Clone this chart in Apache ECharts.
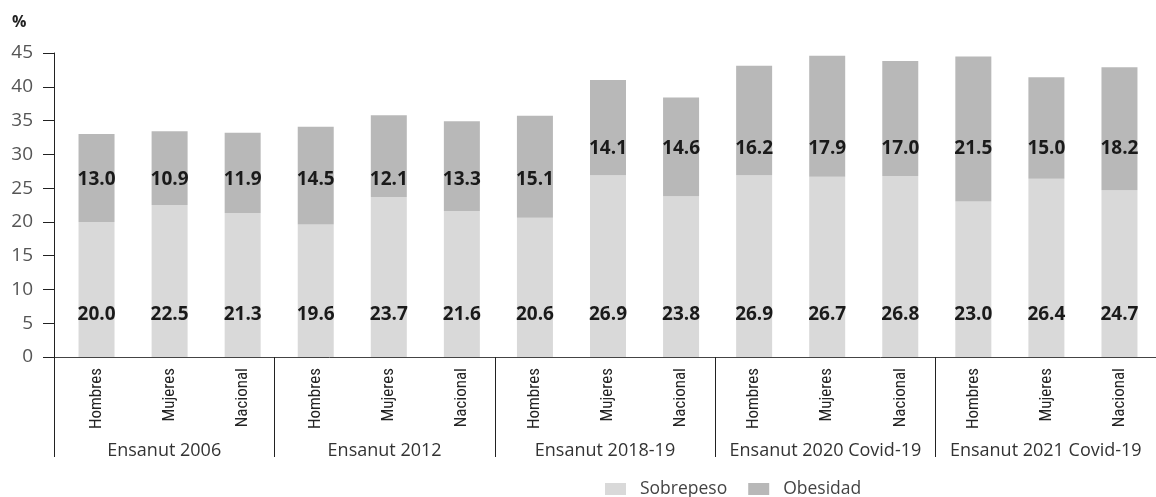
<!DOCTYPE html>
<html>
<head>
<meta charset="utf-8">
<script src="https://cdn.jsdelivr.net/npm/echarts@6/dist/echarts.min.js"></script>
<style>html,body{margin:0;padding:0;background:#fff}#c{width:1156px;height:497px}</style>
</head>
<body>
<div id="c"></div>
<script>
const categories = ['Hombres','Mujeres','Nacional','Hombres','Mujeres','Nacional','Hombres','Mujeres','Nacional','Hombres','Mujeres','Nacional','Hombres','Mujeres','Nacional'];
const groups = ['Ensanut 2006','Ensanut 2012','Ensanut 2018-19','Ensanut 2020 Covid-19','Ensanut 2021 Covid-19'];
const sobrepeso = [20.0, 22.5, 21.3, 19.6, 23.7, 21.6, 20.6, 26.9, 23.8, 26.9, 26.7, 26.8, 23.0, 26.4, 24.7];
const obesidad = [13.0, 10.9, 11.9, 14.5, 12.1, 13.3, 15.1, 14.1, 14.6, 16.2, 17.9, 17.0, 21.5, 15.0, 18.2];
const yTicks = [0, 45, 5];

// pick a condensed face for the rotated category labels if one is installed
function pickCondensed() {
  const ctx = document.createElement('canvas').getContext('2d');
  const probe = 'Hombres Mujeres Nacional';
  ctx.font = '16px monospace';
  const base = ctx.measureText(probe).width;
  const cands = ['Liberation Sans Narrow', 'Roboto Condensed', 'DejaVu Sans Condensed', 'Open Sans Condensed', 'Noto Sans Condensed'];
  for (const f of cands) {
    ctx.font = '16px "' + f + '", monospace';
    if (Math.abs(ctx.measureText(probe).width - base) > 0.5) return {family: '"' + f + '"', size: 17};
  }
  return {family: '"Liberation Sans", sans-serif', size: 14};
}
const cond = pickCondensed();

const chart = echarts.init(document.getElementById('c'), null, {renderer: 'canvas'});

function yPix(v) {
  return chart.convertToPixel({yAxisIndex: 0}, v);
}
function placeAt(p, v) {
  return {
    x: p.rect.x + p.rect.width / 2,
    y: yPix(v),
    align: 'center',
    verticalAlign: 'middle'
  };
}

const labelBase = {
  show: true,
  position: 'inside',
  fontFamily: 'Open Sans',
  fontWeight: 'bold',
  fontSize: 19,
  color: '#1a1a1a',
  formatter: p => p.value.toFixed(1)
};

chart.setOption({
  animation: false,
  title: {
    text: '%', left: 12, top: 14, padding: 0,
    textStyle: {fontFamily: 'Open Sans', fontWeight: 'bold', fontSize: 16, color: '#222'}
  },
  legend: {
    left: 605, top: 480, padding: 0,
    itemWidth: 21, itemHeight: 12, itemGap: 21,
    icon: 'rect',
    textStyle: {fontFamily: 'Open Sans', fontSize: 17.5, color: '#444', padding: [0, 0, 0, 9]},
    data: ['Sobrepeso', 'Obesidad']
  },
  grid: [
    {left: 60, width: 1108, top: 53, bottom: 140},
    {left: 54, width: 1111.5, top: 53, bottom: 140}
  ],
  xAxis: [
    {
      type: 'category', gridIndex: 0, data: categories,
      axisLine: {show: false}, axisTick: {show: false},
      axisLabel: {interval: 0, rotate: 90, margin: 11, fontSize: cond.size,
        fontFamily: cond.family, color: '#222'}
    },
    {
      type: 'category', gridIndex: 1, data: groups, position: 'bottom',
      axisLine: {show: true, lineStyle: {color: '#444', width: 1}},
      axisTick: {show: true, interval: 0, length: 100, lineStyle: {color: '#222', width: 1}},
      axisLabel: {interval: 0, margin: 85, fontSize: 18, fontFamily: 'Open Sans', color: '#333'}
    }
  ],
  yAxis: [
    {
      type: 'value', gridIndex: 0, min: yTicks[0], max: yTicks[1], interval: yTicks[2], offset: 6,
      axisLine: {show: true, lineStyle: {color: '#222', width: 1}},
      axisTick: {show: true, length: 11, lineStyle: {color: '#222', width: 1}},
      axisLabel: {fontSize: 19, fontFamily: 'Open Sans', color: '#555', margin: 21},
      splitLine: {show: false}
    },
    {
      type: 'value', gridIndex: 1, min: yTicks[0], max: yTicks[1], show: false,
      splitLine: {show: false}
    }
  ],
  series: [
    {
      name: 'Sobrepeso', type: 'bar', stack: 'total', xAxisIndex: 0, yAxisIndex: 0,
      barWidth: 36, data: sobrepeso,
      itemStyle: {color: '#d9d9d9'},
      label: labelBase,
      labelLayout: p => placeAt(p, 6.25)
    },
    {
      name: 'Obesidad', type: 'bar', stack: 'total', xAxisIndex: 0, yAxisIndex: 0,
      barWidth: 36, data: obesidad,
      itemStyle: {color: '#b8b8b8'},
      label: labelBase,
      labelLayout: p => placeAt(p, sobrepeso[p.dataIndex] + obesidad[p.dataIndex] > 37 ? 30.9 : 26.3)
    }
  ]
});
</script>
</body>
</html>
